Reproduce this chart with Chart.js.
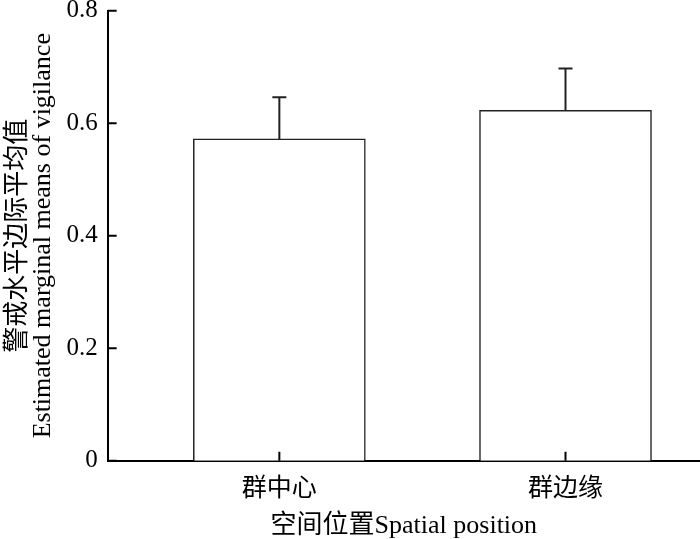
<!DOCTYPE html>
<html>
<head>
<meta charset="utf-8">
<script src="https://cdn.jsdelivr.net/npm/chart.js@4.4.1/dist/chart.umd.min.js"></script>
<style>
    html, body { margin: 0; padding: 0; background: #fff; overflow: hidden; }
    #wrap { width: 700px; height: 539px; }
</style>
</head>
<body>
<div id="wrap"><canvas id="vigilanceChart" width="700" height="539"></canvas></div>
<script>
// data
const categories = ['群中心', '群边缘'];
const means = [0.572, 0.623];
const errors = [0.074, 0.074];
const yTicks = [0, 0.2, 0.4, 0.6, 0.8];

const serif = "'Liberation Serif', 'Noto Sans CJK SC', serif";

// error bars (upper only) drawn through the scales
const errorBarPlugin = {
    id: 'errorBars',
    afterDatasetsDraw(chart) {
        const ctx = chart.ctx;
        const xs = chart.scales.x, ys = chart.scales.y;
        ctx.save();
        ctx.strokeStyle = '#222';
        ctx.lineWidth = 2;
        means.forEach((m, i) => {
            const px = xs.getPixelForValue(i);
            const y0 = ys.getPixelForValue(m);
            const y1 = ys.getPixelForValue(m + errors[i]);
            ctx.beginPath();
            ctx.moveTo(px, y0);
            ctx.lineTo(px, y1);
            ctx.moveTo(px - 7, y1);
            ctx.lineTo(px + 7, y1);
            ctx.stroke();
        });
        ctx.restore();
    }
};

// inward tick marks on both axes
const innerTicksPlugin = {
    id: 'innerTicks',
    afterDraw(chart) {
        const ctx = chart.ctx;
        const xs = chart.scales.x, ys = chart.scales.y;
        const x0 = chart.chartArea.left;
        const yBase = ys.getPixelForValue(0);
        ctx.save();
        ctx.strokeStyle = '#000';
        ctx.lineWidth = 2;
        ctx.beginPath();
        yTicks.forEach(v => {
            const py = ys.getPixelForValue(v);
            ctx.moveTo(x0, py);
            ctx.lineTo(x0 + 9, py);
        });
        categories.forEach((c, i) => {
            const px = xs.getPixelForValue(i);
            ctx.moveTo(px, yBase);
            ctx.lineTo(px, yBase - 9);
        });
        ctx.stroke();
        ctx.restore();
    }
};

const ctx = document.getElementById('vigilanceChart').getContext('2d');
new Chart(ctx, {
    type: 'bar',
    data: {
        datasets: [{
            data: means.map((v, i) => ({ x: i, y: v })),
            backgroundColor: '#fff',
            borderColor: '#222',
            borderWidth: 1.5,
            barThickness: 172
        }]
    },
    options: {
        responsive: false,
        animation: false,
        layout: { padding: { left: 0, top: 0, right: 0, bottom: -3 } },
        plugins: {
            legend: { display: false },
            tooltip: { enabled: false }
        },
        scales: {
            x: {
                type: 'linear',
                offset: false,
                min: -0.6,
                max: 1.47,
                afterBuildTicks: s => { s.ticks = categories.map((c, i) => ({ value: i })); },
                ticks: {
                    callback: v => categories[v],
                    color: '#000',
                    font: { family: serif, size: 25 },
                    padding: 14,
                    maxRotation: 0
                },
                grid: { display: false, drawTicks: false },
                border: { color: '#000', width: 2 },
                title: {
                    display: true,
                    text: '空间位置Spatial position',
                    color: '#000',
                    font: { family: serif, size: 26 },
                    padding: { top: -8, bottom: 0 }
                }
            },
            y: {
                min: 0,
                max: 0.8,
                afterBuildTicks: s => { s.ticks = yTicks.map(v => ({ value: v })); },
                ticks: {
                    color: '#000',
                    font: { family: serif, size: 25, lineHeight: 0.05 },
                    padding: 10
                },
                grid: { display: false, drawTicks: false },
                border: { color: '#000', width: 2 },
                title: {
                    display: true,
                    text: ['警戒水平边际平均值', 'Estimated marginal means of vigilance'],
                    color: '#000',
                    font: { family: serif, size: 26, lineHeight: 0.95 },
                    padding: { top: 6, bottom: 1 }
                }
            }
        }
    },
    plugins: [errorBarPlugin, innerTicksPlugin]
});
</script>
</body>
</html>
